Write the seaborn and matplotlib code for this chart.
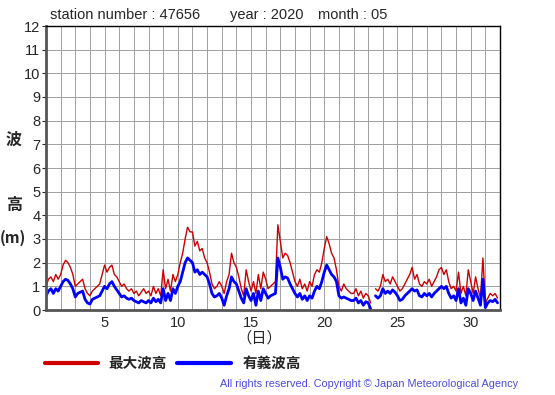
# Monthly wave height plot (station 47656, May 2020)

import numpy as np
import pandas as pd
import seaborn as sns
import matplotlib.pyplot as plt

# values every 4 hours, 6 per day, day 1..31 (nan = missing)
days = list(range(1, 32))
max_wave = [
    1.0, 1.3, 1.4, 1.2, 1.5, 1.3,   # 1
    1.5, 1.9, 2.1, 2.0, 1.8, 1.5,   # 2
    1.0, 1.1, 1.2, 1.3, 0.9, 0.7,   # 3
    0.6, 0.8, 0.9, 1.0, 1.1, 1.5,   # 4
    1.9, 1.6, 1.8, 1.9, 1.5, 1.4,   # 5
    1.2, 1.0, 1.1, 0.9, 0.8, 0.9,   # 6
    0.7, 0.8, 0.6, 0.75, 0.9, 0.7,  # 7
    0.8, 0.6, 1.0, 0.7, 0.9, 0.6,   # 8
    1.7, 0.9, 1.3, 0.8, 1.5, 1.2,   # 9
    1.5, 2.0, 2.4, 3.0, 3.5, 3.3,   # 10
    3.3, 2.7, 2.9, 2.5, 2.6, 2.2,   # 11
    2.0, 1.6, 1.1, 0.9, 1.0, 1.2,   # 12
    1.0, 0.7, 1.2, 1.5, 2.4, 2.0,   # 13
    1.8, 1.4, 0.9, 0.6, 1.7, 1.2,   # 14
    0.8, 1.2, 0.7, 1.5, 0.9, 1.6,   # 15
    1.3, 0.9, 1.0, 1.1, 1.2, 3.6,   # 16
    2.9, 2.2, 2.4, 2.3, 2.0, 1.6,   # 17
    1.2, 1.0, 1.3, 0.9, 1.1, 0.8,   # 18
    1.2, 1.0, 1.5, 1.7, 1.6, 2.0,   # 19
    2.6, 3.1, 2.8, 2.4, 2.2, 1.7,   # 20
    1.0, 0.8, 1.1, 0.9, 0.8, 0.7,   # 21
    0.7, 0.9, 0.6, 0.8, 0.5, 0.7,   # 22
    0.6, 0.3, np.nan, 0.9, 0.8, 1.0,  # 23
    1.5, 1.2, 1.3, 1.1, 1.4, 1.2,   # 24
    1.0, 0.8, 0.9, 1.1, 1.3, 1.5,   # 25
    1.8, 1.3, 1.5, 1.1, 1.0, 1.2,   # 26
    1.1, 1.3, 1.0, 1.2, 1.4, 1.7,   # 27
    1.8, 1.5, 1.7, 1.2, 0.9, 1.0,   # 28
    0.8, 1.6, 0.7, 1.0, 0.6, 1.7,   # 29
    1.2, 0.7, 1.4, 0.9, 0.5, 2.2,   # 30
    0.3, 0.5, 0.7, 0.6, 0.7, 0.5,   # 31
]
sig_wave = [
    0.6, 0.8, 0.9, 0.7, 0.9, 0.8,
    1.0, 1.2, 1.3, 1.25, 1.1, 0.9,
    0.55, 0.7, 0.75, 0.8, 0.45, 0.3,
    0.25, 0.45, 0.5, 0.55, 0.6, 0.8,
    1.0, 0.9, 1.1, 1.2, 1.0, 0.85,
    0.7, 0.55, 0.6, 0.5, 0.45, 0.5,
    0.4, 0.35, 0.3, 0.4, 0.35, 0.3,
    0.4, 0.3, 0.5, 0.35, 0.45, 0.3,
    0.9, 0.4, 0.7, 0.4, 0.9, 0.7,
    1.0, 1.2, 1.6, 2.0, 2.2, 2.1,
    2.0, 1.6, 1.7, 1.5, 1.6, 1.5,
    1.4, 1.1, 0.7, 0.55, 0.6, 0.7,
    0.5, 0.2, 0.6, 0.9, 1.4, 1.2,
    1.1, 0.8, 0.5, 0.3, 0.9, 0.6,
    0.4, 0.7, 0.2, 0.8, 0.4, 0.9,
    0.7, 0.5, 0.6, 0.65, 0.7, 2.2,
    1.8, 1.3, 1.4, 1.35, 1.1, 0.9,
    0.7, 0.55, 0.7, 0.45, 0.6, 0.4,
    0.6, 0.5, 0.8, 1.0, 0.9, 1.2,
    1.6, 1.9, 1.7, 1.5, 1.4, 1.2,
    0.6, 0.5, 0.55, 0.5, 0.45, 0.4,
    0.4, 0.5, 0.3, 0.4, 0.2, 0.35,
    0.3, 0.05, np.nan, 0.6, 0.5, 0.6,
    0.9, 0.7, 0.8, 0.7, 0.85, 0.75,
    0.6, 0.4, 0.45, 0.6, 0.7, 0.8,
    0.9, 0.8, 0.85, 0.6, 0.55, 0.7,
    0.6, 0.7, 0.55, 0.7, 0.8, 0.9,
    1.0, 0.9, 1.0, 0.7, 0.5, 0.6,
    0.4, 0.9, 0.3, 0.5, 0.2, 0.9,
    0.7, 0.4, 0.8, 0.5, 0.2, 1.3,
    0.1, 0.3, 0.4, 0.35, 0.45, 0.3,
]

t = [d + k / 6 for d in days for k in range(6)]
df = pd.DataFrame({"t": t, "max": max_wave, "sig": sig_wave})
# split into segments at missing values so the line breaks there
df["seg"] = df["max"].isna().cumsum()
df = df.dropna()

sns.set_style("white")
plt.rcParams['font.family'] = ['Liberation Sans', 'Noto Sans CJK JP']

fig = plt.figure(figsize=(5.55, 3.95), dpi=100)
ax = fig.add_axes([46 / 555, 85 / 395, 454 / 555, 284 / 395])

sns.lineplot(data=df, x="t", y="max", units="seg", estimator=None,
             color="#cc0000", lw=1.0, ax=ax)
sns.lineplot(data=df, x="t", y="sig", units="seg", estimator=None,
             color="#0000ff", lw=2.0, ax=ax)

ax.set_xlim(1, 32)
ax.set_ylim(0, 12)
ax.set_xticks(range(5, 31, 5))
ax.set_xticks(range(1, 33), minor=True)
ax.set_yticks(range(0, 13))
ax.grid(which="both", axis="x", color="#a0a0a0", lw=0.7)
ax.grid(which="major", axis="y", color="#a0a0a0", lw=0.7)
ax.set_axisbelow(True)
ax.tick_params(axis="x", which="both", length=0, labelsize=10.5, pad=4)
ax.tick_params(axis="y", length=3, width=0.8, labelsize=10.5, pad=1, left=True)
ax.set_xlabel("")
ax.set_ylabel("")

for side in ["left", "bottom"]:
    ax.spines[side].set_linewidth(2)
    ax.spines[side].set_color("#555555")
for side in ["top", "right"]:
    ax.spines[side].set_linewidth(1)
    ax.spines[side].set_color("black")

# y-axis label in pieces
cjk = ['Noto Sans CJK JP', 'DejaVu Sans']
fig.text(14 / 555, 1 - 140 / 395, "波", family=cjk, fontsize=11.5, weight="bold",
         ha="center", va="center")
fig.text(14 / 555, 1 - 205 / 395, "高", family=cjk, fontsize=11.5, weight="bold",
         ha="center", va="center")
fig.text(13 / 555, 1 - 238 / 395, "(m)", family=cjk, fontsize=11, weight="bold",
         ha="center", va="center")
fig.text(259 / 555, 1 - 338 / 395, "（日）", family=cjk, fontsize=11,
         ha="center", va="center")

# header
fig.text(50 / 555, 1 - 15 / 395, "station number : 47656", fontsize=10.5, va="center")
fig.text(230 / 555, 1 - 15 / 395, "year : 2020", fontsize=10.5, va="center")
fig.text(318 / 555, 1 - 15 / 395, "month : 05", fontsize=10.5, va="center")

# legend drawn below the plot
fig.add_artist(plt.Line2D([45 / 555, 98 / 555], [1 - 363 / 395] * 2,
                          color="#cc0000", lw=3))
fig.text(108 / 555, 1 - 363 / 395, "最大波高", family=cjk, fontsize=10.5,
         weight="bold", va="center")
fig.add_artist(plt.Line2D([177 / 555, 231 / 555], [1 - 363 / 395] * 2,
                          color="#0000ff", lw=3))
fig.text(243 / 555, 1 - 363 / 395, "有義波高", family=cjk, fontsize=10.5,
         weight="bold", va="center")

fig.text(518 / 555, 1 - 384 / 395,
         "All rights reserved. Copyright \u00a9 Japan Meteorological Agency",
         fontsize=7.8, color="#4a4ae0", ha="right", va="center")

fig.savefig("out.png", dpi=100)
